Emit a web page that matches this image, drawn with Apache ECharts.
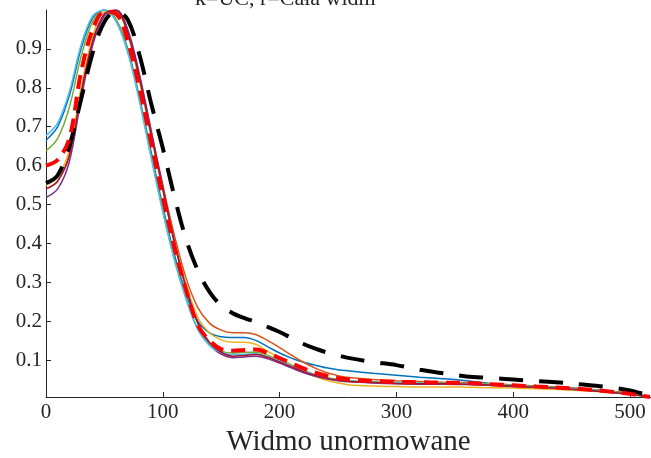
<!DOCTYPE html>
<html>
<head>
<meta charset="utf-8">
<script src="https://cdn.jsdelivr.net/npm/echarts@6/dist/echarts.min.js"></script>
<style>
html,body{margin:0;padding:0;background:#fff;}
#chart{width:651px;height:458px;}
</style>
</head>
<body>
<div id="chart"></div>
<script>
const titleText = "k=UC, r=Cała widm";
const xAxisName = "Widmo unormowane";
const xTicks = [0, 100, 200, 300, 400, 500];
const yTicks = [0.1, 0.2, 0.3, 0.4, 0.5, 0.6, 0.7, 0.8, 0.9];

const xValues = [0,10,20,30,40,50,60,70,80,90,100,110,120,130,140,150,160,170,180,190,200,210,220,230,240,250,260,280,300,320,340,360,380,400,420,440,460,480,500,517];

const seriesBlue = [0.665,0.70,0.78,0.90,0.98,1.0,0.975,0.90,0.775,0.635,0.495,0.37,0.27,0.20,0.17,0.16,0.158,0.158,0.15,0.134,0.118,0.105,0.095,0.087,0.08,0.075,0.072,0.066,0.061,0.056,0.052,0.047,0.04,0.036,0.033,0.03,0.026,0.021,0.014,0.006];
const seriesOrange = [0.54,0.56,0.63,0.79,0.92,0.99,1.0,0.945,0.83,0.69,0.55,0.42,0.31,0.235,0.195,0.177,0.17,0.17,0.165,0.15,0.132,0.113,0.095,0.08,0.068,0.06,0.055,0.05,0.047,0.045,0.043,0.042,0.039,0.036,0.033,0.03,0.026,0.021,0.014,0.006];
const seriesYellow = [0.55,0.57,0.64,0.80,0.93,0.995,0.995,0.935,0.815,0.675,0.535,0.405,0.295,0.21,0.17,0.152,0.146,0.146,0.14,0.122,0.105,0.088,0.072,0.058,0.048,0.041,0.036,0.033,0.032,0.031,0.031,0.030,0.029,0.028,0.026,0.024,0.021,0.017,0.011,0.004];
const seriesPurple = [0.518,0.54,0.61,0.77,0.91,0.985,1.0,0.95,0.835,0.69,0.545,0.405,0.285,0.195,0.14,0.115,0.106,0.108,0.11,0.103,0.092,0.08,0.068,0.059,0.052,0.047,0.044,0.041,0.039,0.038,0.038,0.037,0.035,0.032,0.03,0.027,0.023,0.018,0.012,0.005];
const seriesGreen = [0.638,0.67,0.75,0.88,0.97,1.0,0.975,0.895,0.77,0.625,0.485,0.36,0.26,0.18,0.14,0.123,0.118,0.12,0.12,0.112,0.1,0.087,0.074,0.063,0.055,0.05,0.047,0.044,0.043,0.042,0.041,0.04,0.038,0.035,0.032,0.029,0.025,0.02,0.013,0.006];
const seriesLightBlue = [0.677,0.71,0.79,0.91,0.985,1.0,0.97,0.89,0.765,0.62,0.48,0.355,0.255,0.178,0.137,0.12,0.114,0.115,0.116,0.108,0.097,0.085,0.073,0.062,0.054,0.049,0.046,0.043,0.042,0.041,0.04,0.039,0.037,0.034,0.031,0.028,0.024,0.019,0.013,0.006];
const seriesDarkRed = [0.54,0.56,0.625,0.785,0.92,0.99,0.998,0.94,0.825,0.68,0.54,0.40,0.285,0.195,0.145,0.12,0.11,0.112,0.114,0.107,0.095,0.083,0.071,0.061,0.053,0.048,0.045,0.042,0.04,0.039,0.039,0.038,0.036,0.033,0.03,0.027,0.023,0.018,0.012,0.005];
const seriesBlackDashed = [0.555,0.575,0.65,0.77,0.89,0.97,0.997,0.975,0.885,0.76,0.645,0.52,0.41,0.33,0.275,0.24,0.22,0.208,0.197,0.185,0.172,0.157,0.142,0.13,0.12,0.112,0.105,0.095,0.087,0.075,0.066,0.058,0.054,0.05,0.046,0.042,0.037,0.031,0.022,0.008];
const seriesRedDashed = [0.60,0.615,0.67,0.84,0.95,0.995,0.99,0.92,0.80,0.66,0.52,0.39,0.28,0.19,0.15,0.128,0.124,0.126,0.127,0.118,0.105,0.092,0.079,0.068,0.06,0.054,0.05,0.046,0.044,0.043,0.042,0.041,0.038,0.035,0.032,0.029,0.025,0.02,0.013,0.005];

const thinSeries = [
  {name: "s1", color: "#0072BD", values: seriesBlue},
  {name: "s2", color: "#D95319", values: seriesOrange},
  {name: "s3", color: "#EDB120", values: seriesYellow},
  {name: "s4", color: "#7E2F8E", values: seriesPurple},
  {name: "s5", color: "#77AC30", values: seriesGreen},
  {name: "s6", color: "#4DBEEE", values: seriesLightBlue},
  {name: "s7", color: "#A2142F", values: seriesDarkRed}
];

function pairs(vals){ return xValues.map((x,i)=>[x, vals[i]]); }

const series = thinSeries.map(s => ({
  type: 'line', name: s.name, data: pairs(s.values), smooth: 0.35, symbol: 'none',
  lineStyle: {color: s.color, width: 1.5}, silent: true
}));
series.push({
  type: 'line', name: 'mean', data: pairs(seriesBlackDashed), smooth: 0.35, symbol: 'none',
  lineStyle: {color: '#000', width: 4, type: [24, 16]}, silent: true
});
series.push({
  type: 'line', name: 'red', data: pairs(seriesRedDashed), smooth: 0.35, symbol: 'none',
  lineStyle: {color: '#FF0000', width: 4, type: [14, 8]}, silent: true
});

const axisColor = '#262626';
const font = 'Liberation Serif';

const chart = echarts.init(document.getElementById('chart'), null, {renderer: 'canvas'});
chart.setOption({
  animation: false,
  backgroundColor: '#fff',
  title: {
    text: titleText, left: 190, top: -17,
    textStyle: {fontFamily: font, fontSize: 22, fontWeight: 'normal', color: axisColor}
  },
  grid: {left: 46, right: 0, top: 10, bottom: 61, containLabel: false, outerBoundsMode: 'none'},
  xAxis: {
    type: 'value', min: 0, max: 518,
    name: xAxisName, nameLocation: 'middle', nameGap: 27,
    nameTextStyle: {fontFamily: font, fontSize: 29, color: axisColor},
    axisLine: {show: true, onZero: false, lineStyle: {color: axisColor, width: 1}},
    axisTick: {show: true, inside: true, length: 5, customValues: xTicks, lineStyle: {color: axisColor}},
    axisLabel: {customValues: xTicks, fontFamily: font, fontSize: 21, color: axisColor, margin: 5},
    splitLine: {show: false}
  },
  yAxis: {
    type: 'value', min: 0.005, max: 1,
    axisLine: {show: true, onZero: false, lineStyle: {color: axisColor, width: 1}},
    axisTick: {show: true, inside: true, length: 5, customValues: yTicks, lineStyle: {color: axisColor}},
    axisLabel: {customValues: yTicks, fontFamily: font, fontSize: 21, color: axisColor, margin: 4,
      formatter: v => v.toFixed(1)},
    splitLine: {show: false}
  },
  series: series
});
</script>
</body>
</html>
